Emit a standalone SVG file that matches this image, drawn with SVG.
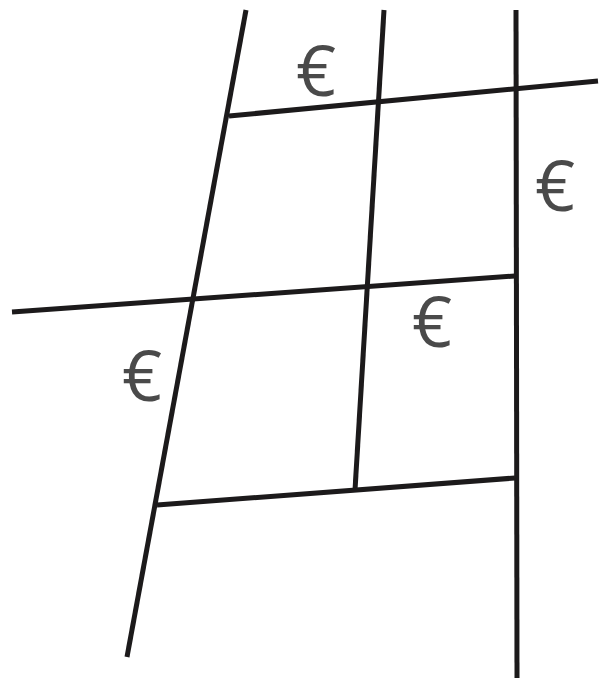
<svg xmlns="http://www.w3.org/2000/svg" width="605" height="684" viewBox="0 0 605 684">
<style>
.ln{stroke:#1c1a1b;stroke-width:5;fill:none;stroke-linecap:butt}
.eu{font-family:"Open Sans","Liberation Sans",sans-serif;font-size:70px;fill:#4a4a4a;text-anchor:middle}
</style>
<rect width="605" height="684" fill="#ffffff"/>
<g id="lines">
<line class="ln" x1="246" y1="10" x2="127" y2="657"/>
<line class="ln" x1="384" y1="10" x2="355" y2="490"/>
<line class="ln" x1="516" y1="10" x2="517" y2="678"/>
<line class="ln" x1="229" y1="116" x2="598" y2="81"/>
<line class="ln" x1="12" y1="312" x2="515" y2="276"/>
<line class="ln" x1="157" y1="505" x2="515" y2="478"/>
</g>
<g id="labels">
<text class="eu" x="316" y="96">€</text>
<text class="eu" x="555" y="211">€</text>
<text class="eu" x="432" y="347">€</text>
<text class="eu" x="142" y="401">€</text>
</g>
</svg>
